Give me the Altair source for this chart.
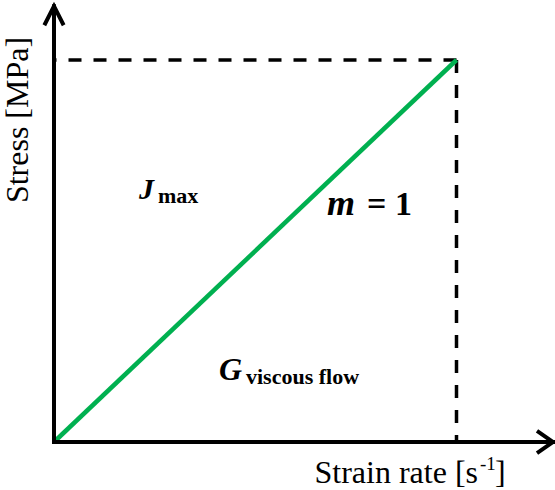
import altair as alt
import pandas as pd

# Linear viscous-flow response (m = 1), in normalised units
strain_rate = [0.0, 1.0]
stress = [0.0, 1.0]

# Where the axis arrows end, in the same units
x_axis_end = 1.240
y_axis_end = 1.141

# Arrowhead size (data units): length back from the tip and half-width
x_head = (0.040, 0.029)
y_head = (0.050, 0.024)

# Scale domains chosen so the diagram sits with room for the labels
X_DOMAIN = [-0.13416, 1.24472]
Y_DOMAIN = [-0.12565, 1.15707]

FONT = "Liberation Serif"
GREEN = "#00B050"

xs = alt.Scale(domain=X_DOMAIN, nice=False, zero=False)
ys = alt.Scale(domain=Y_DOMAIN, nice=False, zero=False)


def X(field):
    return alt.X(f"{field}:Q", scale=xs, axis=None)


def Y(field):
    return alt.Y(f"{field}:Q", scale=ys, axis=None)


# --- axes -----------------------------------------------------------------
axes_df = pd.DataFrame({
    "x": [0.0, 0.0], "y": [0.0, 0.0],
    "x2": [x_axis_end, 0.0], "y2": [0.0, y_axis_end],
})
axes = alt.Chart(axes_df).mark_rule(
    color="black", strokeWidth=4, strokeCap="square"
).encode(x=X("x"), y=Y("y"), x2="x2:Q", y2="y2:Q")

heads_df = pd.DataFrame({
    "head": ["x", "x", "x", "y", "y", "y"],
    "order": [0, 1, 2, 0, 1, 2],
    "x": [x_axis_end - x_head[0], x_axis_end, x_axis_end - x_head[0],
          -y_head[1], 0.0, y_head[1]],
    "y": [x_head[1], 0.0, -x_head[1],
          y_axis_end - y_head[0], y_axis_end, y_axis_end - y_head[0]],
})
heads = alt.Chart(heads_df).mark_line(
    color="black", strokeWidth=4, strokeJoin="miter", strokeCap="butt"
).encode(x=X("x"), y=Y("y"), detail="head:N", order="order:Q")

# --- dashed guides from the end point back to each axis -------------------
guide_df = pd.DataFrame({
    "guide": ["h", "h", "v", "v"],
    "order": [0, 1, 0, 1],
    "x": [strain_rate[1], 0.0, strain_rate[1], strain_rate[1]],
    "y": [stress[1], stress[1], stress[1], 0.0],
})
guides = alt.Chart(guide_df).mark_line(
    color="black", strokeWidth=3.5, strokeDash=[13, 12], strokeCap="butt"
).encode(x=X("x"), y=Y("y"), detail="guide:N", order="order:Q")

# --- the response line ----------------------------------------------------
line_df = pd.DataFrame({"rate": strain_rate, "stress": stress})
line = alt.Chart(line_df).mark_line(
    color=GREEN, strokeWidth=4.5, strokeCap="butt"
).encode(x=X("rate"), y=Y("stress"))

# --- labels ---------------------------------------------------------------
label_text = ["Strain rate [s", "-1", "]", "J", "max", "m", "= 1", "G", "viscous flow"]
label_x = [1.0534, 1.0584, 1.0957, 0.2112, 0.2584, 0.6783, 0.8894, 0.4100, 0.4770]
label_y = [-0.1073, -0.0733, -0.1073, 0.6361, 0.6257, 0.5942, 0.5942, 0.1623, 0.1518]
label_size = [32, 19, 32, 30, 22, 36, 34, 32, 22]
label_align = ["right", "left", "left", "left", "left", "left", "right", "left", "left"]
label_weight = ["normal", "normal", "normal", "bold", "bold", "bold", "bold", "bold", "bold"]
label_style = ["normal", "normal", "normal", "italic", "normal", "italic", "normal", "italic", "normal"]

text_layers = []
for t, x, y, s, a, w, st in zip(label_text, label_x, label_y, label_size,
                                label_align, label_weight, label_style):
    df = pd.DataFrame({"x": [x], "y": [y], "t": [t]})
    text_layers.append(
        alt.Chart(df).mark_text(
            font=FONT, fontSize=s, align=a, baseline="alphabetic",
            fontWeight=w, fontStyle=st, color="black",
        ).encode(x=X("x"), y=Y("y"), text="t:N")
    )

ylab_df = pd.DataFrame({"x": [-0.0646], "y": [0.843], "t": ["Stress [MPa]"]})
ylab = alt.Chart(ylab_df).mark_text(
    font=FONT, fontSize=32, align="center", baseline="alphabetic",
    angle=270, color="black",
).encode(x=X("x"), y=Y("y"), text="t:N")

chart = alt.layer(guides, line, axes, heads, ylab, *text_layers).properties(
    width=555, height=490, padding=0, autosize="none", background="white",
).configure_view(stroke=None)

chart.save("out.html", embed_options={"renderer": "svg", "actions": False})
